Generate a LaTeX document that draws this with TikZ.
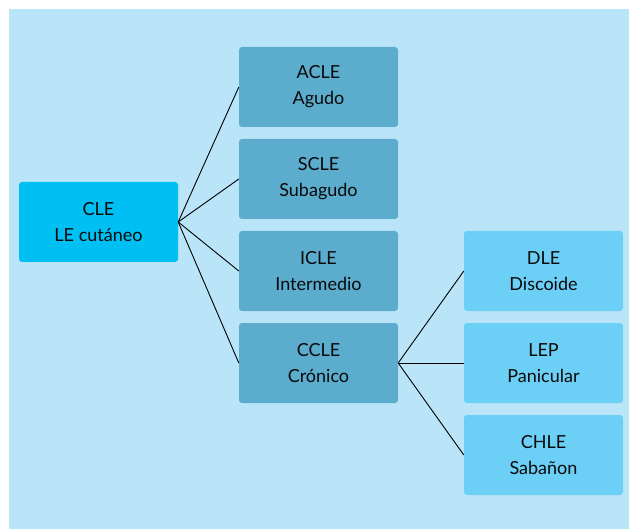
\documentclass[tikz,border=0pt]{standalone}
\usepackage{fontspec}
\setmainfont{Lato}
\definecolor{bgc}{RGB}{186,229,249}
\definecolor{rootc}{RGB}{0,191,243}
\definecolor{midc}{RGB}{91,172,205}
\definecolor{leafc}{RGB}{107,207,246}
\definecolor{txt}{RGB}{10,10,10}
\tikzset{
  box/.style={rounded corners=3pt, minimum width=159pt, minimum height=80pt, inner sep=0pt,
    align=center, text=txt, font=\fontsize{18}{26}\selectfont},
  rootbox/.style={box, fill=rootc},
  midbox/.style={box, fill=midc},
  leafbox/.style={box, fill=leafc},
  conn/.style={draw=black, line width=0.9pt}
}
\begin{document}
\begin{tikzpicture}[x=1pt,y=-1pt]
\useasboundingbox (0,0) rectangle (629,529);
\fill[bgc] (9,9) rectangle (629,529);
\node[rootbox] (cle) at (98.5,222) {CLE\\LE cutáneo};
\node[midbox] (acle) at (318.5,87) {ACLE\\Agudo};
\node[midbox] (scle) at (318.5,179) {SCLE\\Subagudo};
\node[midbox] (icle) at (318.5,271) {ICLE\\Intermedio};
\node[midbox] (ccle) at (318.5,363) {CCLE\\Crónico};
\node[leafbox] (dle) at (543.5,271) {DLE\\Discoide};
\node[leafbox] (lep) at (543.5,363) {LEP\\Panicular};
\node[leafbox] (chle) at (543.5,455) {CHLE\\Sabañon};
\foreach \c in {acle,scle,icle,ccle} \draw[conn] (cle.east) -- (\c.west);
\foreach \c in {dle,lep,chle} \draw[conn] (ccle.east) -- (\c.west);
\end{tikzpicture}
\end{document}
